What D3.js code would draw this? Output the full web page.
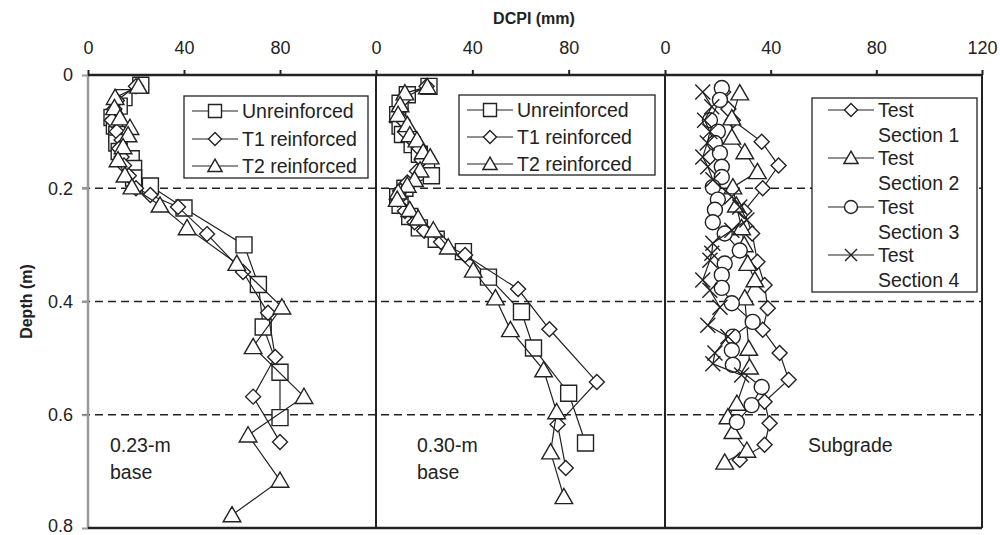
<!DOCTYPE html>
<html>
<head>
<meta charset="utf-8">
<script src="https://cdn.jsdelivr.net/npm/d3@7"></script>
<style>
  body { margin: 0; background: #fff; }
  text { font-family: "Liberation Sans", Arial, sans-serif; fill: #222; }
</style>
</head>
<body>
<div id="chart"></div>
<script>
// each point is [DCPI (mm), depth (m)]
const base23Unreinforced = [[22,0.018],[15,0.04],[13,0.055],[10,0.075],[11,0.09],[12,0.105],[12,0.12],[13,0.135],[18,0.148],[19,0.165],[19,0.182],[26,0.196],[40,0.235],[65,0.300],[71,0.370],[73,0.445],[80,0.525],[80,0.605]];
const base23T1 = [[20,0.02],[12,0.045],[11,0.06],[10,0.08],[12,0.1],[14,0.115],[13,0.13],[14,0.145],[15,0.16],[17,0.178],[20,0.2],[26,0.212],[37.5,0.233],[49.6,0.281],[64.6,0.348],[75,0.42],[78,0.498],[68.8,0.568],[80,0.648]];
const base23T2 = [[21,0.02],[11.3,0.04],[11,0.058],[13.3,0.076],[17.5,0.093],[16.7,0.106],[14.6,0.127],[12.5,0.15],[15.4,0.177],[18.3,0.198],[30,0.23],[41.3,0.27],[62,0.333],[80.8,0.41],[68.8,0.48],[90,0.568],[66.7,0.636],[80,0.716],[60,0.777]];

const base30Unreinforced = [[22,0.02],[13,0.035],[10,0.05],[9,0.07],[10,0.09],[11,0.105],[15,0.123],[18,0.14],[21,0.158],[23,0.178],[12,0.2],[9,0.215],[10,0.23],[14,0.25],[18,0.27],[25,0.29],[36.3,0.312],[46.7,0.357],[60.4,0.418],[65.4,0.482],[80,0.562],[87,0.65]];
const base30T1 = [[21,0.02],[12,0.04],[10,0.06],[11,0.08],[12,0.1],[15,0.115],[18,0.13],[19,0.15],[17,0.17],[13,0.19],[10,0.205],[9,0.22],[12,0.24],[16,0.26],[20,0.275],[27,0.295],[37,0.318],[59,0.378],[72,0.449],[91.7,0.542],[75.4,0.617],[78.8,0.694]];
const base30T2 = [[21.3,0.021],[12,0.032],[10,0.053],[9.2,0.07],[13,0.088],[14,0.106],[17,0.115],[19.6,0.136],[22.5,0.145],[18.3,0.168],[16,0.185],[13,0.195],[9.2,0.207],[8.8,0.22],[14,0.238],[17.5,0.253],[23.8,0.274],[30,0.304],[40.4,0.345],[49.6,0.394],[55.8,0.45],[69.6,0.521],[75,0.595],[72.5,0.666],[78,0.745]];

const subgradeS1 = [[22,0.03],[24,0.06],[25.7,0.08],[36.6,0.118],[43,0.16],[37,0.2],[30,0.24],[33,0.28],[35,0.33],[37.7,0.371],[38.9,0.412],[37,0.45],[43.4,0.491],[46.8,0.538],[37.7,0.577],[39.6,0.615],[37.7,0.653],[28.3,0.68]];
const subgradeS2 = [[28.3,0.032],[25.3,0.076],[25.3,0.11],[30.2,0.136],[35,0.171],[25.7,0.198],[27,0.23],[29,0.27],[30,0.3],[31.3,0.333],[34,0.362],[30.2,0.394],[31.7,0.483],[32,0.516],[27.2,0.58],[23.8,0.604],[25.7,0.63],[31,0.663],[22.6,0.684]];
const subgradeS3 = [[21.5,0.023],[20.8,0.044],[17,0.08],[20,0.1],[18.9,0.12],[20.8,0.138],[21.5,0.162],[21.5,0.18],[18.1,0.198],[20,0.22],[18.9,0.238],[18.1,0.26],[22.6,0.28],[28.3,0.31],[22.6,0.333],[21.5,0.353],[21.5,0.376],[25.3,0.403],[33.2,0.436],[25.7,0.462],[25.3,0.486],[25.7,0.512],[36.6,0.551],[32.8,0.583],[27.2,0.613]];
const subgradeS4 = [[14.3,0.03],[17.7,0.056],[15,0.08],[17,0.1],[16,0.12],[14.3,0.145],[16.2,0.162],[18.1,0.185],[25.3,0.215],[28.3,0.233],[31,0.256],[25.3,0.274],[18.1,0.297],[17.7,0.315],[17,0.327],[14.3,0.362],[17,0.38],[20.8,0.41],[16.2,0.442],[23.8,0.462],[18.9,0.491],[18.1,0.51],[29,0.53]];

const depthTicks = [0, 0.2, 0.4, 0.6, 0.8];
const dashedDepths = [0.2, 0.4, 0.6];
const dcpiTicks = [[0, 40, 80], [0, 40, 80], [0, 40, 80, 120]];
const panelNotes = [['0.23-m', 'base'], ['0.30-m', 'base'], ['Subgrade']];
const legendNames = [['Unreinforced', 'T1 reinforced', 'T2 reinforced'], ['Unreinforced', 'T1 reinforced', 'T2 reinforced'], ['Test Section 1', 'Test Section 2', 'Test Section 3', 'Test Section 4']];

const markers = {
    square: s => `M${-s},${-s}h${2*s}v${2*s}h${-2*s}Z`,
    diamond: s => `M0,${-s}L${s},0L0,${s}L${-s},0Z`,
    triangle: s => `M0,${-s*1.05}L${s*1.1},${s*0.85}L${-s*1.1},${s*0.85}Z`,
    circle: s => `M${-s},0A${s},${s} 0 1,0 ${s},0A${s},${s} 0 1,0 ${-s},0Z`,
    times: s => `M${-s},${-s}L${s},${s}M${-s},${s}L${s},${-s}`
};

const panels = [
    {x0: 88, x1: 376, series: [[base23Unreinforced, 'square'], [base23T1, 'diamond'], [base23T2, 'triangle']],
     legend: {x: 184, y: 96, w: 184, h: 82, lx: 192, rows: [111, 139, 166]}, note: {x: 110, y: 452}},
    {x0: 376, x1: 665, series: [[base30Unreinforced, 'square'], [base30T1, 'diamond'], [base30T2, 'triangle']],
     legend: {x: 459, y: 95, w: 196, h: 80, lx: 467, rows: [110, 137, 164]}, note: {x: 417, y: 452}},
    {x0: 665, x1: 982, series: [[subgradeS1, 'diamond'], [subgradeS2, 'triangle'], [subgradeS3, 'circle'], [subgradeS4, 'times']],
     legend: {x: 812, y: 98, w: 165, h: 194, lx: 828, rows: [110, 158, 207, 255]}, note: {x: 808, y: 452}}
];
const markerSize = {square: 8, diamond: 7.5, triangle: 8, circle: 7.5, times: 7.5};
const legendSize = {square: 6.5, diamond: 6.5, triangle: 6.5, circle: 6.5, times: 6};

const svg = d3.select('#chart').append('svg').attr('width', 1000).attr('height', 535);
const y = d3.scaleLinear().domain([0, 0.8]).range([75, 528]);

// dashed reference depths
svg.selectAll('.dash').data(dashedDepths).enter().append('line')
    .attr('x1', 82).attr('x2', 982).attr('y1', d => y(d)).attr('y2', d => y(d))
    .style('stroke', '#222').style('stroke-width', 1.3).style('stroke-dasharray', '8,5');

// left axis
const yAxis = svg.append('g').attr('transform', 'translate(88,0)')
    .call(d3.axisLeft(y).tickValues(depthTicks).tickSize(6).tickPadding(9).tickFormat(d => d === 0 ? '0' : d.toFixed(1)));
yAxis.select('.domain').remove();
yAxis.selectAll('line').style('stroke', '#999').style('stroke-width', 2);
yAxis.selectAll('text').style('font-size', '18px').style('font-family', 'Liberation Sans, Arial, sans-serif').style('fill', '#222')
    .attr('dy', d => d === 0.8 ? '0.2em' : '0.32em');
svg.append('line').attr('x1', 88).attr('x2', 88).attr('y1', y(0)).attr('y2', y(0.8)).style('stroke', '#999').style('stroke-width', 2.5);

panels.forEach((p, i) => {
    const x = d3.scaleLinear().domain([0, 120]).range([p.x0, p.x1]);
    const xAxis = svg.append('g').attr('transform', `translate(0,${y(0)})`)
        .call(d3.axisTop(x).tickValues(dcpiTicks[i]).tickSize(5).tickPadding(16));
    xAxis.select('.domain').remove();
    xAxis.selectAll('line').style('stroke', '#222').style('stroke-width', 2);
    xAxis.selectAll('text').style('font-size', '18px').style('font-family', 'Liberation Sans, Arial, sans-serif').style('fill', '#222');

    const line = d3.line().x(d => x(d[0])).y(d => y(d[1]));
    p.series.forEach(([data, shape]) => {
        const g = svg.append('g');
        g.append('path').attr('d', line(data)).style('fill', 'none').style('stroke', '#222').style('stroke-width', 1.2);
        g.selectAll('path.pt').data(data).enter().append('path').attr('class', 'pt')
            .attr('transform', d => `translate(${x(d[0])},${y(d[1])})`)
            .attr('d', markers[shape](markerSize[shape]))
            .style('fill', shape === 'times' ? 'none' : '#fff').style('stroke', '#222').style('stroke-width', 1.4);
    });

    // legend box
    const lg = p.legend;
    svg.append('rect').attr('x', lg.x).attr('y', lg.y).attr('width', lg.w).attr('height', lg.h)
        .style('fill', '#fff').style('stroke', '#222').style('stroke-width', 1.3);
    p.series.forEach(([data, shape], j) => {
        const ry = lg.rows[j];
        svg.append('line').attr('x1', lg.lx).attr('x2', lg.lx + 46).attr('y1', ry).attr('y2', ry).style('stroke', '#222').style('stroke-width', 1.2);
        svg.append('path').attr('transform', `translate(${lg.lx + 23},${ry})`).attr('d', markers[shape](legendSize[shape]))
            .style('fill', shape === 'times' ? 'none' : '#fff').style('stroke', '#222').style('stroke-width', 1.4);
        const words = legendNames[i][j];
        if (i === 2) {
            const t = svg.append('text').attr('x', lg.lx + 50).attr('y', ry + 7).style('font-size', '19.5px');
            t.append('tspan').text('Test');
            t.append('tspan').attr('x', lg.lx + 50).attr('dy', 25).text(words.replace('Test ', ''));
        } else {
            svg.append('text').attr('x', lg.lx + 50).attr('y', ry + 7).style('font-size', '19.5px').text(words);
        }
    });

    // panel note
    panelNotes[i].forEach((s, k) => svg.append('text').attr('x', p.note.x).attr('y', p.note.y + k * 27).style('font-size', '19.5px').text(s));

    // right border of panel
    svg.append('line').attr('x1', p.x1).attr('x2', p.x1).attr('y1', y(0)).attr('y2', y(0.8)).style('stroke', '#222').style('stroke-width', 2);
});

// frame top and bottom
svg.append('line').attr('x1', 88).attr('x2', 982).attr('y1', y(0)).attr('y2', y(0)).style('stroke', '#222').style('stroke-width', 2.5);
svg.append('line').attr('x1', 88).attr('x2', 982).attr('y1', y(0.8)).attr('y2', y(0.8)).style('stroke', '#222').style('stroke-width', 2.5);

svg.append('text').attr('x', 534).attr('y', 24).attr('text-anchor', 'middle')
    .style('font-size', '16px').style('font-weight', 'bold').text('DCPI (mm)');
svg.append('text').attr('transform', `translate(32,${y(0.4)}) rotate(-90)`).attr('text-anchor', 'middle')
    .style('font-size', '16px').style('font-weight', 'bold').text('Depth (m)');
</script>
</body>
</html>
